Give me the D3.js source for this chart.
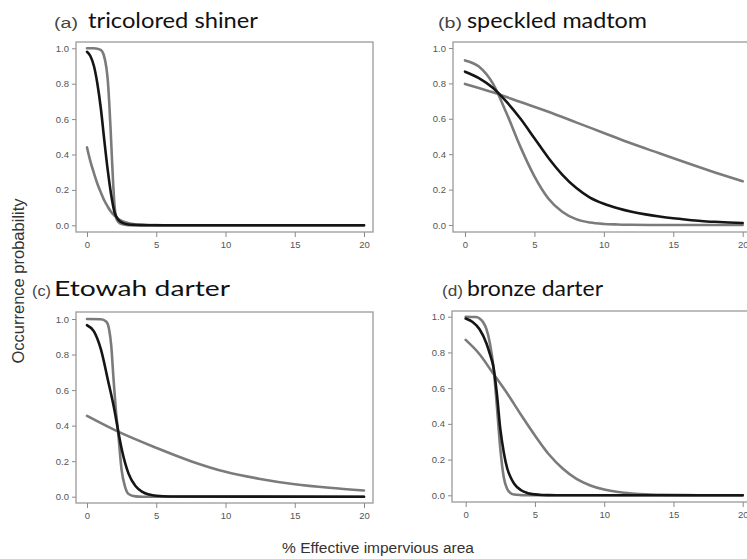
<!DOCTYPE html>
<html><head><meta charset="utf-8">
<script src="https://cdn.jsdelivr.net/npm/d3@7"></script>
<style>body{margin:0;background:#fff}svg{display:block}</style>
</head><body>
<svg id="chart" width="747" height="559"></svg>
<script>
// ---- data ----
const panelLetters = ["(a)", "(b)", "(c)", "(d)"];
const panelNames = ["tricolored shiner", "speckled madtom", "Etowah darter", "bronze darter"];
const xTicks = [0, 5, 10, 15, 20];
const yTicks = [0, 0.2, 0.4, 0.6, 0.8, 1.0];
const yTickLabels = ["0.0", "0.2", "0.4", "0.6", "0.8", "1.0"];
const xLabel = "% Effective impervious area";
const yLabel = "Occurrence probability";

// (a) tricolored shiner
const aBlackX = [0, 0.25, 0.5, 0.75, 1, 1.25, 1.5, 1.75, 2, 2.25, 2.5, 3, 3.5, 4, 5, 20];
const aBlackY = [0.98, 0.955, 0.9, 0.8, 0.66, 0.48, 0.31, 0.17, 0.07, 0.033, 0.017, 0.005, 0.002, 0.001, 0, 0];
const aGrayAX = [0, 0.5, 0.75, 1, 1.2, 1.4, 1.5, 1.6, 1.7, 1.8, 1.9, 2, 2.1, 2.25, 2.5, 3, 3.5, 20];
const aGrayAY = [1, 1, 0.998, 0.99, 0.965, 0.89, 0.82, 0.7, 0.55, 0.38, 0.22, 0.1, 0.045, 0.02, 0.007, 0.001, 0, 0];
const aGrayBX = [0, 0.25, 0.5, 0.75, 1, 1.25, 1.5, 1.75, 2, 2.5, 3, 3.5, 4, 5, 6, 20];
const aGrayBY = [0.44, 0.36, 0.295, 0.235, 0.185, 0.14, 0.105, 0.075, 0.053, 0.025, 0.012, 0.006, 0.003, 0.001, 0, 0];

// (b) speckled madtom
const bBlackX = [0, 1, 2, 3, 4, 5, 6, 7, 8, 9, 10, 11, 12, 13, 14, 15, 16, 17, 18, 19, 20];
const bBlackY = [0.866, 0.83, 0.775, 0.695, 0.6, 0.49, 0.38, 0.285, 0.21, 0.155, 0.12, 0.095, 0.075, 0.06, 0.048, 0.038, 0.03, 0.023, 0.018, 0.014, 0.011];
const bGrayAX = [0, 1, 2, 3, 4, 5, 6, 7, 8, 9, 10, 11, 12, 14, 20];
const bGrayAY = [0.93, 0.895, 0.8, 0.63, 0.44, 0.275, 0.15, 0.075, 0.033, 0.014, 0.006, 0.003, 0.001, 0, 0];
const bGrayBX = [0, 2, 4, 6, 8, 10, 12, 14, 16, 18, 20];
const bGrayBY = [0.797, 0.75, 0.695, 0.64, 0.58, 0.52, 0.46, 0.405, 0.35, 0.297, 0.247];

// (c) Etowah darter
const cBlackX = [0, 0.5, 1, 1.5, 2, 2.25, 2.5, 3, 3.5, 4, 4.5, 5, 6, 20];
const cBlackY = [0.965, 0.93, 0.83, 0.66, 0.48, 0.37, 0.27, 0.13, 0.06, 0.027, 0.012, 0.005, 0.001, 0];
const cGrayAX = [0, 1, 1.4, 1.6, 1.75, 1.9, 2.07, 2.25, 2.5, 2.75, 3, 3.5, 4, 20];
const cGrayAY = [1.0, 0.999, 0.985, 0.94, 0.85, 0.68, 0.5, 0.36, 0.15, 0.055, 0.015, 0.002, 0, 0];
const cGrayBX = [0, 2.25, 5, 7.5, 10, 12.5, 15, 17.5, 20];
const cGrayBY = [0.455, 0.366, 0.275, 0.2, 0.14, 0.1, 0.07, 0.05, 0.035];

// (d) bronze darter
const dBlackX = [0, 0.5, 1, 1.5, 1.75, 2, 2.25, 2.5, 2.75, 3, 3.25, 3.5, 4, 4.5, 5, 5.5, 6, 7, 20];
const dBlackY = [0.99, 0.97, 0.93, 0.85, 0.79, 0.72, 0.57, 0.37, 0.24, 0.15, 0.1, 0.065, 0.028, 0.012, 0.005, 0.002, 0.001, 0, 0];
const dGrayAX = [0, 0.75, 1, 1.25, 1.5, 1.75, 2, 2.25, 2.5, 2.75, 3, 3.25, 3.5, 4, 4.5, 20];
const dGrayAY = [1, 0.998, 0.99, 0.97, 0.93, 0.85, 0.72, 0.5, 0.26, 0.1, 0.035, 0.012, 0.004, 0.001, 0, 0];
const dGrayBX = [0, 1, 2, 3, 4, 5, 6, 7, 8, 9, 10, 11, 12, 13, 14, 16, 18, 20];
const dGrayBY = [0.87, 0.79, 0.68, 0.57, 0.45, 0.335, 0.23, 0.15, 0.092, 0.055, 0.032, 0.018, 0.01, 0.005, 0.003, 0.001, 0, 0];

const panelSeries = [
  [[aGrayAX, aGrayAY, "gray"], [aGrayBX, aGrayBY, "gray"], [aBlackX, aBlackY, "black"]],
  [[bGrayAX, bGrayAY, "gray"], [bGrayBX, bGrayBY, "gray"], [bBlackX, bBlackY, "black"]],
  [[cGrayAX, cGrayAY, "gray"], [cGrayBX, cGrayBY, "gray"], [cBlackX, cBlackY, "black"]],
  [[dGrayAX, dGrayAY, "gray"], [dGrayBX, dGrayBY, "gray"], [dBlackX, dBlackY, "black"]]
];

// ---- layout ----
const layout = [
  {xr: [87, 364], yr: [225.3, 48.3], box: [76, 42, 373, 232], letter: [54, 24], name: [88, 170], base: 28},
  {xr: [465, 742.7], yr: [225, 48], box: [453, 42, 760, 232], letter: [438, 24], name: [467, 180], base: 28},
  {xr: [87, 364], yr: [496.7, 319], box: [76, 312, 373, 503], letter: [32, 19], name: [54, 176], base: 296},
  {xr: [465.7, 742.7], yr: [495.3, 316.7], box: [452, 311, 760, 502], letter: [442, 21], name: [467, 136], base: 296}
];
const colors = {gray: "#7b7b7b", black: "#151515"};

const svg = d3.select("#chart");

layout.forEach((L, i) => {
  const x = d3.scaleLinear().domain([0, 20]).range(L.xr);
  const y = d3.scaleLinear().domain([0, 1]).range(L.yr);
  const g = svg.append("g");

  // titles
  g.append("text").attr("x", L.letter[0]).attr("y", L.base)
    .attr("font-family", "Liberation Sans, Arial, sans-serif").attr("font-size", 14)
    .attr("fill", "#444").attr("textLength", L.letter[1]).attr("lengthAdjust", "spacingAndGlyphs")
    .text(panelLetters[i]);
  g.append("text").attr("x", L.name[0]).attr("y", L.base)
    .attr("font-family", "Lato, sans-serif").attr("font-size", 21)
    .attr("fill", "#111").attr("textLength", L.name[1]).attr("lengthAdjust", "spacingAndGlyphs")
    .text(panelNames[i]);

  // lines
  panelSeries[i].forEach(([xs, ys, c]) => {
    const pts = xs.map((v, k) => [v, ys[k]]);
    g.append("path").datum(pts)
      .attr("d", d3.line().x(d => x(d[0])).y(d => y(d[1])).curve(d3.curveMonotoneX))
      .attr("fill", "none").attr("stroke", colors[c]).attr("stroke-width", 2.6)
      .attr("stroke-linejoin", "round").attr("stroke-linecap", "round");
  });

  // box
  g.append("rect").attr("x", L.box[0]).attr("y", L.box[1])
    .attr("width", L.box[2] - L.box[0]).attr("height", L.box[3] - L.box[1])
    .attr("fill", "none").attr("stroke", "#9a9a9a").attr("stroke-width", 1.3);

  // y axis
  const ya = g.append("g").attr("transform", `translate(${L.box[0]},0)`)
    .call(d3.axisLeft(y).tickValues(yTicks).tickSize(4).tickPadding(3)
      .tickFormat((d, k) => yTickLabels[k]));
  // x axis
  const xa = g.append("g").attr("transform", `translate(0,${L.box[3]})`)
    .call(d3.axisBottom(x).tickValues(xTicks).tickSize(5).tickPadding(4));
  [ya, xa].forEach(a => {
    a.select(".domain").remove();
    a.selectAll("line").attr("stroke", "#8a8a8a").attr("stroke-width", 1);
    a.selectAll("text").attr("font-family", "Liberation Sans, Arial, sans-serif")
      .attr("font-size", 9.5).attr("fill", "#555");
  });
});

// axis titles
svg.append("text").attr("x", 378).attr("y", 553).attr("text-anchor", "middle")
  .attr("font-family", "Liberation Sans, Arial, sans-serif").attr("font-size", 15.5).attr("fill", "#333")
  .text(xLabel);
svg.append("text").attr("transform", "translate(24,281) rotate(-90)").attr("text-anchor", "middle")
  .attr("font-family", "Liberation Sans, Arial, sans-serif").attr("font-size", 16.5).attr("fill", "#333")
  .text(yLabel);
</script>
</body></html>
